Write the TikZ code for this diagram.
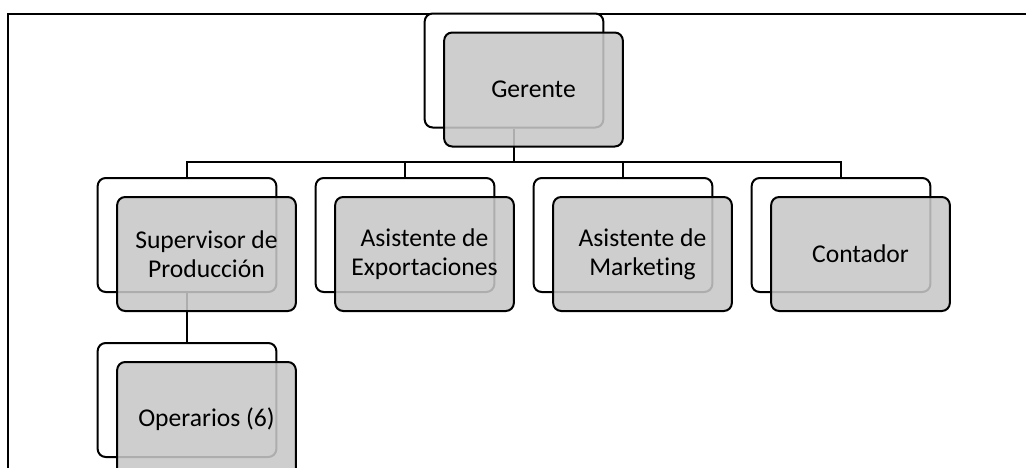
\documentclass[tikz,border=0pt]{standalone}
\usepackage{fontspec}
\setmainfont{Carlito}[Ligatures=NoCommon]
\usetikzlibrary{positioning}

\begin{document}
\begin{tikzpicture}[x=0.75pt, y=-0.75pt, line width=1.5pt,
    node distance={123.75pt and 163.5pt}, on grid,
    back/.style = {draw, rounded corners=6pt, minimum width=134pt, minimum height=85.5pt, inner sep=0pt, fill=white},
    front/.style = {back, fill=black!22, fill opacity=0.87, text opacity=1, align=center,
        font=\fontsize{19.2}{21.5}\selectfont}]
        \clip (0,0) rectangle (1026,468);
        \draw (8,468) |- (1026,14);
        % back boxes
        \node[back] (gerB) at (514,70.5) {};
        \node[back] (supB) at (187,235) {};
        \node[back] [right=of supB] (expB) {};
        \node[back] [right=of expB] (marB) {};
        \node[back] [right=of marB] (conB) {};
        \node[back] [below=of supB] (opeB) {};
        % connectors
        \coordinate (bus) at (514,162);
        \draw (gerB.south) -- (bus);
        \draw (supB.north) |- (bus) -| (conB.north);
        \draw (expB.north) -- (expB.north |- bus);
        \draw (marB.north) -- (marB.north |- bus);
        \draw (supB.south) -- (opeB.north);
        % front boxes
        \node[front] (ger) at ([shift={(19.5,19)}]gerB.center) {Gerente};
        \node[front] (sup) at ([shift={(19.5,19)}]supB.center) {Supervisor de\\Producción};
        \node[front] (exp) at ([shift={(19.5,19)}]expB.center) {Asistente de\\Exportaciones};
        \node[front] (mar) at ([shift={(19.5,19)}]marB.center) {Asistente de\\Marketing};
        \node[front] (con) at ([shift={(19.5,19)}]conB.center) {Contador};
        \node[front] (ope) at ([shift={(19.5,19)}]opeB.center) {Operarios (6)};
\end{tikzpicture}
\end{document}
